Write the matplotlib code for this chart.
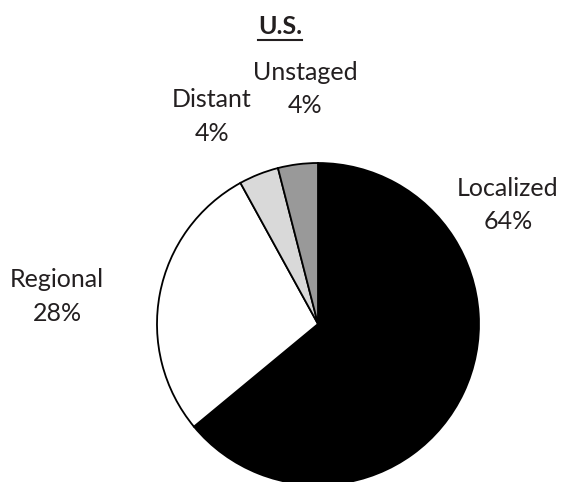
import matplotlib
matplotlib.use("Agg")
import matplotlib.pyplot as plt
from matplotlib.lines import Line2D

title = "U.S."
categories = ["Localized", "Regional", "Distant", "Unstaged"]
values = [64, 28, 4, 4]
colors = ["#000000", "#ffffff", "#d9d9d9", "#999999"]
# label centres in data units (pie radius = 1)
label_pos = [(1.18, 0.74), (-1.62, 0.17), (-0.66, 1.29), (-0.08, 1.46)]

W, H = 561, 482
fig = plt.figure(figsize=(W / 100, H / 100), dpi=100)
cx, cy, r = 318, 324, 161
ax = fig.add_axes([(cx - r) / W, (H - cy - r) / H, 2 * r / W, 2 * r / H])
wedges, _ = ax.pie(values, colors=colors, startangle=90, counterclock=False,
                   wedgeprops=dict(edgecolor="black", linewidth=1.3))
for w in wedges:
    w.set_clip_on(False)
ax.set_xlim(-1, 1)
ax.set_ylim(-1, 1)
ax.axis("off")

txtcol = "#231f20"
for cat, v, (x, y) in zip(categories, values, label_pos):
    ax.text(x, y, f"{cat}\n{v}%", ha="center", va="center", fontsize=18,
            family="Lato", color=txtcol, linespacing=1.55, clip_on=False)

t = fig.text(280 / W, 1 - 26 / H, title, ha="center", va="center", fontsize=18,
             family="Lato", fontweight="bold", color=txtcol)
fig.canvas.draw()
bb = t.get_window_extent()
yline = bb.y0 - 2
fig.add_artist(Line2D([bb.x0 / W, bb.x1 / W], [yline / H, yline / H],
                      transform=fig.transFigure, color=txtcol, linewidth=1.5))

fig.savefig("out.png", dpi=100)
